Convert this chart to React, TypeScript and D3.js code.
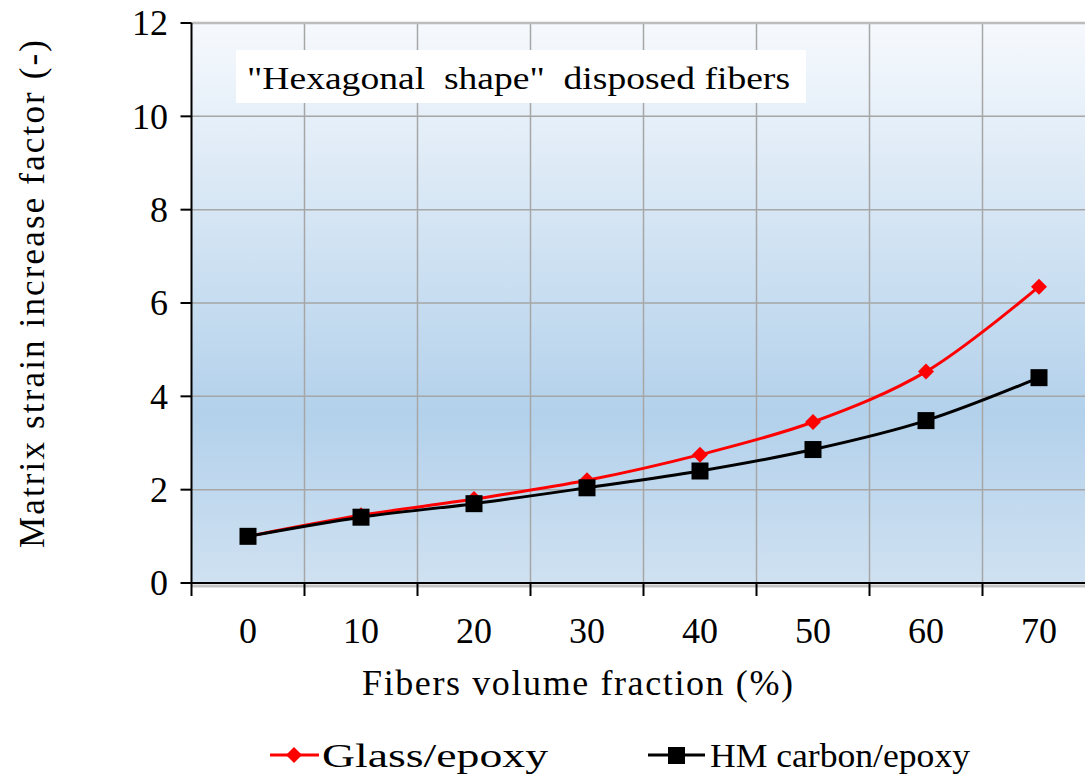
import * as d3 from "d3";

const fractions = ["0", "10", "20", "30", "40", "50", "60", "70"];
const glassEpoxy = [1.0, 1.45, 1.8, 2.2, 2.75, 3.45, 4.53, 6.35];
const hmCarbonEpoxy = [1.0, 1.41, 1.7, 2.04, 2.4, 2.86, 3.48, 4.4];
const yTicks = [0, 2, 4, 6, 8, 10, 12];

const W = 1085;
const H = 776;
const M = { left: 191.5, top: 23, right: 1095.5, bottom: 583 };
const FONT = "'Liberation Serif', 'Times New Roman', Tinos, 'DejaVu Serif', serif";

export default function App() {
  const x = d3.scaleBand<string>().domain(fractions).range([M.left, M.right]);
  const y = d3.scaleLinear().domain([0, 12]).range([M.bottom, M.top]);
  const cx = (d: string) => (x(d) ?? 0) + x.bandwidth() / 2;

  // smoothed lines like the spreadsheet original
  const line = d3
    .line<number>()
    .x((_, i) => cx(fractions[i]))
    .y((v) => y(v))
    .curve(d3.curveCatmullRom.alpha(0.5));

  const diamond = (px: number, py: number, r: number) =>
    `M${px},${py - r}L${px + r},${py}L${px},${py + r}L${px - r},${py}Z`;

  const boundaries = fractions.map((d) => x(d) ?? 0).concat([M.right]);

  return (
    <svg
      width={W}
      height={H}
      style={{ position: "absolute", left: 0, top: 0, background: "#fff", fontFamily: FONT }}
    >
      <defs>
        <linearGradient id="bg" x1="0" y1="0" x2="0" y2="1">
          <stop offset="0" stopColor="#f6f9fd" />
          <stop offset="0.7" stopColor="#b3d1eb" />
          <stop offset="1" stopColor="#cfe1f1" />
        </linearGradient>
      </defs>
      <rect x={M.left} y={M.top} width={M.right - M.left} height={M.bottom - M.top} fill="url(#bg)" />

      {/* grid */}
      {yTicks.map((t) => (
        <line key={"gy" + t} x1={M.left} x2={M.right} y1={y(t)} y2={y(t)} stroke="#a6a6a6" strokeWidth={1.5} />
      ))}
      {boundaries.slice(1).map((b, i) => (
        <line key={"gx" + i} x1={b} x2={b} y1={M.top} y2={M.bottom} stroke="#a6a6a6" strokeWidth={1.5} />
      ))}
      <line x1={M.left} x2={M.right} y1={M.top} y2={M.top} stroke="#bdbdbd" strokeWidth={2.5} />

      {/* shadow under x axis */}
      <line x1={M.left} x2={M.right} y1={M.bottom + 3} y2={M.bottom + 3} stroke="#c4c4c4" strokeWidth={3} />

      {/* axes */}
      <line x1={M.left} x2={M.left} y1={M.top} y2={M.bottom} stroke="#000" strokeWidth={2} />
      <line x1={M.left} x2={M.right} y1={M.bottom} y2={M.bottom} stroke="#000" strokeWidth={2} />
      {yTicks.map((t) => (
        <g key={"ty" + t}>
          <line x1={M.left - 11} x2={M.left} y1={y(t)} y2={y(t)} stroke="#000" strokeWidth={2} />
          <text x={168} y={y(t)} dy="0.34em" textAnchor="end" fontSize={36}>
            {t}
          </text>
        </g>
      ))}
      {boundaries.map((b, i) => (
        <line key={"tx" + i} x1={b} x2={b} y1={M.bottom} y2={M.bottom + 13} stroke="#000" strokeWidth={2} />
      ))}
      {fractions.map((d) => (
        <text key={"lx" + d} x={cx(d)} y={643} textAnchor="middle" fontSize={36}>
          {d}
        </text>
      ))}

      <text x={362} y={695} fontSize={36} textLength={431} lengthAdjust="spacing">
        Fibers volume fraction (%)
      </text>
      <text
        transform={`translate(44,548) rotate(-90)`}
        fontSize={35}
        textLength={508}
        lengthAdjust="spacing"
      >
        Matrix strain increase factor (-)
      </text>

      {/* annotation */}
      <rect x={236} y={50} width={570} height={53} fill="#fff" />
      <text x={247} y={89} fontSize={32} textLength={543} lengthAdjust="spacingAndGlyphs" style={{ whiteSpace: "pre" }}>
        {'"Hexagonal  shape"  disposed fibers'}
      </text>

      {/* series */}
      <path d={line(glassEpoxy) ?? ""} fill="none" stroke="#ff0000" strokeWidth={3} />
      {glassEpoxy.map((v, i) => (
        <path key={"gm" + i} d={diamond(cx(fractions[i]), y(v), 8)} fill="#ff0000" />
      ))}
      <path d={line(hmCarbonEpoxy) ?? ""} fill="none" stroke="#000" strokeWidth={3} />
      {hmCarbonEpoxy.map((v, i) => (
        <rect key={"cm" + i} x={cx(fractions[i]) - 8.5} y={y(v) - 8.5} width={17} height={17} fill="#000" />
      ))}

      {/* legend */}
      <line x1={270} x2={319} y1={755} y2={755} stroke="#ff0000" strokeWidth={3} />
      <path d={diamond(294, 755, 8)} fill="#ff0000" />
      <text x={322} y={767} fontSize={33} textLength={226} lengthAdjust="spacingAndGlyphs">
        Glass/epoxy
      </text>
      <line x1={648} x2={705} y1={755} y2={755} stroke="#000" strokeWidth={3} />
      <rect x={668} y={747} width={17} height={17} fill="#000" />
      <text x={710} y={767} fontSize={33} textLength={260} lengthAdjust="spacingAndGlyphs">
        HM carbon/epoxy
      </text>
    </svg>
  );
}
